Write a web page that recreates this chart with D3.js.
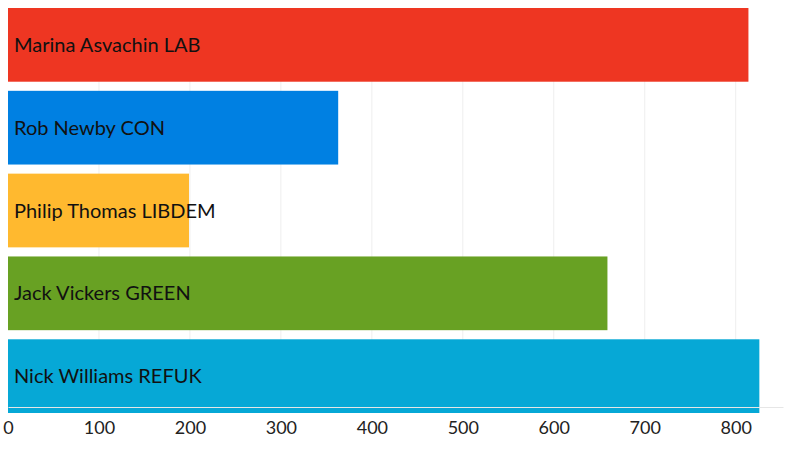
<!DOCTYPE html>
<html><head><meta charset="utf-8">
<script src="https://cdn.jsdelivr.net/npm/d3@7"></script>
<style>body{margin:0;background:#fff}svg{font-family:Lato,sans-serif}</style>
</head><body><svg width="800" height="450"></svg>
<script>
const names = ["Marina Asvachin LAB","Rob Newby CON","Philip Thomas LIBDEM","Jack Vickers GREEN","Nick Williams REFUK"];
const values = [814, 363, 199, 659, 826];
const colors = ["#EE3622","#0080E2","#FFB92F","#68A123","#06A8D6"];
const ticks = [0,100,200,300,400,500,600,700,800];

const svg = d3.select("svg");
const x = d3.scaleLinear().domain([0,852]).range([8,783]);
const y = d3.scaleBand().domain(names).range([8,413]).paddingInner(0.11).paddingOuter(0);

svg.append("g").selectAll("line").data(ticks.slice(1)).join("line")
  .attr("x1",d=>x(d)).attr("x2",d=>x(d)).attr("y1",8).attr("y2",407)
  .attr("stroke","#eeeeee");

svg.append("g").selectAll("rect").data(names).join("rect")
  .attr("x",x(0)).attr("y",d=>y(d)).attr("height",y.bandwidth())
  .attr("width",(d,i)=>x(values[i])-x(0)).attr("fill",(d,i)=>colors[i]);

svg.append("g").selectAll("text").data(names).join("text")
  .attr("x",x(0)+6).attr("y",d=>y(d)+y.bandwidth()/2).attr("dy","0.35em")
  .attr("font-size",20).attr("fill","#111").text(d=>d);

const ax = svg.append("g").attr("transform","translate(0,407)")
  .call(d3.axisBottom(x).tickValues(ticks).tickSize(0).tickPadding(14));
ax.select(".domain").attr("stroke","#e6e6e6");
ax.selectAll("text").attr("font-size",18).attr("fill","#222").style("font-family","Lato");
</script></body></html>
